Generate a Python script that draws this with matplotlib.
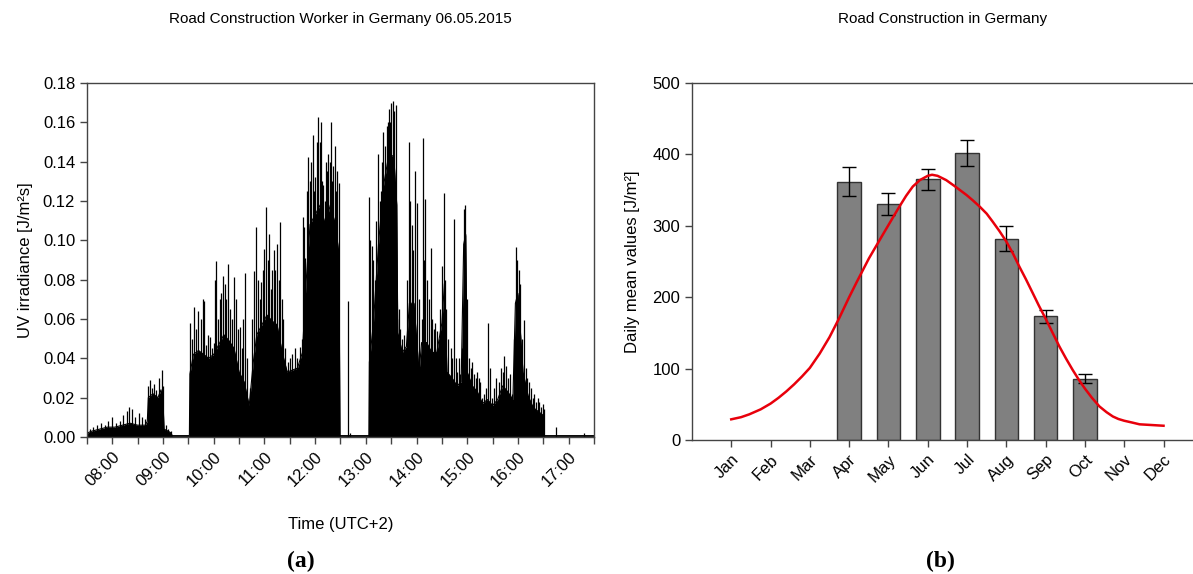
import numpy as np
import matplotlib
matplotlib.use("Agg")
import matplotlib.pyplot as plt
from matplotlib.ticker import FixedLocator, FuncFormatter, MultipleLocator

plt.rcParams['font.family'] = ['Liberation Sans', 'DejaVu Sans']

# ---- (a) personal UV dosimetry, 06.05.2015 (decimal hours, J/m²s) ----
# solid black body of the signal
dense_t = [7.50, 7.60, 7.75, 7.90, 8.05, 8.20, 8.35, 8.50, 8.65, 8.69, 8.71, 8.80,
           8.90, 8.96, 9.00, 9.02, 9.10, 9.16, 9.18, 9.52, 9.53, 9.60, 9.70, 9.80,
           9.90, 10.00, 10.10, 10.20, 10.30, 10.40, 10.50, 10.60, 10.70, 10.78,
           10.85, 10.95, 11.05, 11.15, 11.25, 11.35, 11.45, 11.55, 11.65, 11.75,
           11.82, 11.90, 12.00, 12.10, 12.20, 12.30, 12.40, 12.47, 12.49, 13.06,
           13.07, 13.15, 13.25, 13.35, 13.45, 13.55, 13.61, 13.63, 13.72, 13.80,
           13.86, 13.95, 14.05, 14.10, 14.20, 14.30, 14.40, 14.50, 14.55, 14.60,
           14.70, 14.80, 14.88, 14.93, 14.97, 15.00, 15.10, 15.20, 15.30, 15.40,
           15.50, 15.60, 15.70, 15.80, 15.90, 15.95, 16.00, 16.05, 16.10, 16.20,
           16.30, 16.40, 16.50, 16.52, 17.50]
dense_v = [0.002, 0.003, 0.004, 0.005, 0.005, 0.006, 0.007, 0.006, 0.006, 0.008, 0.020, 0.022,
           0.020, 0.024, 0.018, 0.004, 0.003, 0.002, 0.0007, 0.0007, 0.032, 0.042, 0.044, 0.042,
           0.040, 0.042, 0.047, 0.052, 0.049, 0.045, 0.033, 0.028, 0.016, 0.038,
           0.052, 0.057, 0.062, 0.059, 0.057, 0.043, 0.033, 0.034, 0.035, 0.043,
           0.078, 0.108, 0.113, 0.118, 0.108, 0.118, 0.108, 0.093, 0.0007, 0.0007,
           0.038, 0.058, 0.098, 0.128, 0.143, 0.143, 0.118, 0.053, 0.043, 0.046,
           0.068, 0.068, 0.033, 0.048, 0.048, 0.043, 0.043, 0.058, 0.078, 0.033,
           0.030, 0.026, 0.028, 0.098, 0.103, 0.033, 0.026, 0.023, 0.017, 0.019,
           0.016, 0.019, 0.026, 0.023, 0.019, 0.068, 0.073, 0.053, 0.033, 0.021,
           0.015, 0.013, 0.011, 0.0007, 0.0007]

# individual spikes
spike_t = [7.55, 7.62, 7.70, 7.78, 7.85, 7.92, 8.00, 8.07, 8.15, 8.22, 8.28, 8.33, 8.38,
           8.45, 8.52, 8.58, 8.65, 8.70, 8.74, 8.78, 8.82, 8.86, 8.93, 8.97, 9.00, 9.05,
           9.10, 9.15,
           9.53, 9.57, 9.62, 9.66, 9.69, 9.74, 9.78, 9.81, 9.85, 9.88, 9.92, 9.96, 10.00,
           10.03, 10.05, 10.09, 10.12, 10.15, 10.19, 10.22, 10.25, 10.28, 10.32, 10.36,
           10.40, 10.44, 10.48, 10.51, 10.55, 10.58, 10.62, 10.66, 10.71, 10.75, 10.79,
           10.84, 10.88, 10.91, 10.94, 10.97, 11.00, 11.04, 11.07, 11.09, 11.12, 11.15,
           11.18, 11.21, 11.24, 11.28, 11.31, 11.34, 11.37, 11.41, 11.46, 11.50,
           11.55, 11.60, 11.65, 11.70, 11.735, 11.76, 11.78, 11.81, 11.84, 11.865, 11.89,
           11.91, 11.95, 11.98, 12.00, 12.03, 12.06, 12.09, 12.11, 12.14, 12.16, 12.19,
           12.21, 12.24, 12.26, 12.29, 12.31, 12.34, 12.36, 12.40, 12.42, 12.44, 12.476,
           12.65, 12.68,
           13.07, 13.09, 13.115, 13.14, 13.18, 13.21, 13.245, 13.27, 13.29, 13.32, 13.345,
           13.37, 13.41, 13.43, 13.457, 13.48, 13.50, 13.53, 13.56, 13.595,
           13.62, 13.65, 13.68, 13.72, 13.75, 13.79, 13.82, 13.86, 13.88, 13.91, 13.94,
           13.976, 14.01, 14.04, 14.074, 14.10, 14.12, 14.15, 14.17, 14.206, 14.24, 14.285,
           14.31, 14.34, 14.37, 14.40, 14.44, 14.47, 14.50, 14.535, 14.56, 14.58, 14.63,
           14.67, 14.70, 14.74, 14.77, 14.80, 14.83, 14.86, 14.89, 14.93, 14.96, 14.99,
           15.03, 15.07, 15.10, 15.13, 15.17, 15.20, 15.23, 15.26, 15.29, 15.33, 15.37,
           15.415, 15.45, 15.49,
           15.53, 15.57, 15.62, 15.66, 15.70, 15.72, 15.76, 15.80, 15.84, 15.89, 15.92,
           15.956, 15.99, 16.02, 16.05, 16.08, 16.12, 16.15, 16.18, 16.22, 16.25, 16.29,
           16.32, 16.36, 16.39, 16.415, 16.45, 16.49, 16.51, 16.76, 17.30]
spike_v = [0.004, 0.005, 0.006, 0.007, 0.006, 0.008, 0.010, 0.007, 0.008, 0.011, 0.013, 0.015, 0.014,
           0.010, 0.012, 0.010, 0.009, 0.026, 0.029, 0.025, 0.027, 0.024, 0.030, 0.034, 0.026, 0.006,
           0.004, 0.003,
           0.058, 0.050, 0.066, 0.055, 0.064, 0.060, 0.070, 0.069, 0.047, 0.052, 0.051, 0.045, 0.048,
           0.080, 0.0895, 0.060, 0.070, 0.073, 0.082, 0.078, 0.070, 0.088, 0.065, 0.060,
           0.0815, 0.070, 0.055, 0.056, 0.045, 0.060, 0.0835, 0.040, 0.025, 0.060, 0.0844,
           0.107, 0.080, 0.070, 0.079, 0.085, 0.0954, 0.117, 0.090, 0.103, 0.075, 0.085,
           0.095, 0.085, 0.098, 0.080, 0.1095, 0.070, 0.060, 0.045, 0.038, 0.040,
           0.042, 0.045, 0.040, 0.046, 0.050, 0.112, 0.107, 0.091, 0.125, 0.1425, 0.130,
           0.140, 0.1535, 0.125, 0.132, 0.150, 0.1628, 0.150, 0.160, 0.130, 0.128, 0.120,
           0.140, 0.135, 0.144, 0.140, 0.160, 0.130, 0.138, 0.148, 0.125, 0.135, 0.129,
           0.069, 0.002,
           0.122, 0.100, 0.097, 0.090, 0.080, 0.110, 0.144, 0.120, 0.125, 0.140, 0.155,
           0.148, 0.158, 0.160, 0.167, 0.160, 0.170, 0.171, 0.166, 0.169,
           0.060, 0.065, 0.055, 0.050, 0.052, 0.045, 0.080, 0.150, 0.120, 0.108, 0.095,
           0.135, 0.119, 0.070, 0.035, 0.060, 0.152, 0.090, 0.121, 0.080, 0.070, 0.096,
           0.060, 0.055, 0.058, 0.054, 0.050, 0.065, 0.087, 0.124, 0.080, 0.065, 0.050,
           0.045, 0.040, 0.111, 0.040, 0.033, 0.040, 0.032, 0.045, 0.116, 0.118, 0.070,
           0.040, 0.035, 0.038, 0.032, 0.030, 0.033, 0.030, 0.028, 0.020, 0.022, 0.025,
           0.058, 0.035, 0.020,
           0.025, 0.030, 0.028, 0.035, 0.033, 0.041, 0.036, 0.030, 0.032, 0.022, 0.050,
           0.0967, 0.090, 0.085, 0.078, 0.050, 0.0595, 0.035, 0.030, 0.028, 0.025, 0.020,
           0.022, 0.018, 0.020, 0.018, 0.015, 0.017, 0.014, 0.005, 0.002]

# ---- (b) monthly daily mean values (J/m²) ----
months = ['Jan', 'Feb', 'Mar', 'Apr', 'May', 'Jun', 'Jul', 'Aug', 'Sep', 'Oct', 'Nov', 'Dec']
bar_months = [4, 5, 6, 7, 8, 9, 10]
bar_values = [362, 330, 365, 402, 282, 173, 86]
bar_errors = [20, 15.5, 15, 18, 17.5, 9.5, 6.5]

fit_m = [1.0, 1.25, 1.46, 1.75, 2.0, 2.2, 2.4, 2.6, 2.8, 3.0, 3.25, 3.5, 3.75, 4.0,
         4.2, 4.35, 4.5, 4.68, 4.85, 5.0, 5.15, 5.28, 5.45, 5.62, 5.8, 6.0, 6.11,
         6.25, 6.47, 6.7, 6.99, 7.15, 7.32, 7.5, 7.65, 7.82, 8.0, 8.17, 8.33, 8.5,
         8.67, 8.83, 9.0, 9.17, 9.35, 9.52, 9.69, 9.85, 10.0, 10.18, 10.37, 10.55,
         10.71, 10.85, 11.0, 11.2, 11.39, 11.7, 12.0]
fit_v = [29, 32, 36, 43, 51, 59, 68, 78, 89, 101, 121, 144, 171, 200,
         222, 238, 254, 271, 287, 301, 315, 327, 342, 355, 364, 370, 371.5,
         370, 364, 355, 343, 335.5, 327, 317, 306, 293, 278, 261, 243, 225,
         206, 188, 170, 151, 131, 114, 98, 84, 72, 59, 47, 39,
         33, 29.5, 27, 24.5, 22, 21, 20]

fig = plt.figure(figsize=(11.93, 5.74), dpi=100)
spine_col = '#444444'
title_font = ['Liberation Sans Narrow', 'Liberation Sans']

# ---------- panel (a) ----------
ax1 = fig.add_axes([0.0729, 0.2387, 0.4250, 0.6167])
ax1.fill_between(dense_t, 0, dense_v, color='black', lw=0)
ax1.plot(dense_t, dense_v, color='black', lw=0.8)
ax1.vlines(spike_t, 0, spike_v, color='black', lw=0.9)
ax1.set_xlim(7.5, 17.5)
ax1.set_ylim(0, 0.18)
ax1.xaxis.set_major_locator(FixedLocator(range(8, 18)))
ax1.xaxis.set_minor_locator(MultipleLocator(0.5))
ax1.xaxis.set_major_formatter(FuncFormatter(lambda v, p: '%02d:00' % int(round(v))))
ax1.yaxis.set_major_locator(MultipleLocator(0.02))
ax1.yaxis.set_major_formatter(FuncFormatter(lambda v, p: '%.2f' % v))
ax1.set_ylabel('UV irradiance [J/m²s]', fontsize=12, labelpad=7)
ax1.set_xlabel('Time (UTC+2)', fontsize=12, labelpad=20)
ax1.set_title('Road Construction Worker in Germany 06.05.2015', fontsize=11,
              family=title_font, pad=43)

# ---------- panel (b) ----------
ax2 = fig.add_axes([0.5800, 0.2334, 0.4200, 0.6220])
ax2.bar(bar_months, bar_values, width=0.6, color='#808080', edgecolor='#333333', lw=1)
ax2.errorbar(bar_months, bar_values, yerr=bar_errors, fmt='none', ecolor='black',
             elinewidth=1, capsize=5, capthick=1)
ax2.plot(fit_m, fit_v, color='#e8000b', lw=1.8)
ax2.set_xlim(0, 12.75)
ax2.set_ylim(0, 500)
ax2.set_xticks(range(1, 13))
ax2.set_xticklabels(months)
ax2.yaxis.set_major_locator(MultipleLocator(100))
ax2.set_ylabel('Daily mean values [J/m²]', fontsize=12, labelpad=9)
ax2.set_title('Road Construction in Germany', fontsize=11,
              family=title_font, pad=43)
ax2.spines['right'].set_visible(False)

for ax in (ax1, ax2):
    for s in ax.spines.values():
        s.set_color(spine_col)
        s.set_linewidth(1.0)
    ax.tick_params(direction='out', length=5, width=1, color=spine_col, labelsize=12)
    ax.tick_params(which='minor', direction='out', length=5, width=1, color=spine_col)
    for lab in ax.get_xticklabels():
        lab.set_rotation(45)
        lab.set_ha('right')
        lab.set_rotation_mode('anchor')

fig.text(0.252, 0.012, '(a)', fontsize=17, fontweight='bold', ha='center',
         family=['Liberation Serif', 'DejaVu Serif'])
fig.text(0.788, 0.012, '(b)', fontsize=17, fontweight='bold', ha='center',
         family=['Liberation Serif', 'DejaVu Serif'])

fig.savefig('out.png', dpi=100)
